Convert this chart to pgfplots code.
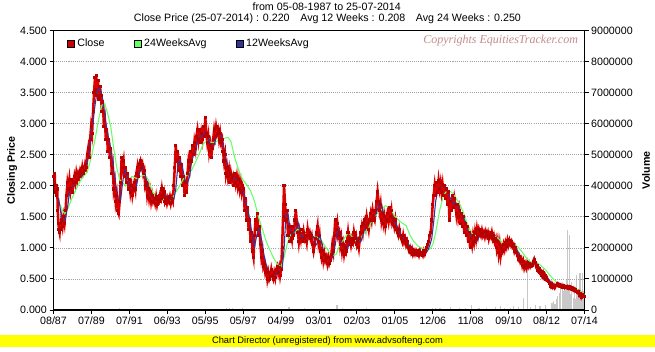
\documentclass[border=0pt]{standalone}
\usepackage{fontspec}
\setmainfont{Liberation Sans}
\newfontfamily\wmfont{Liberation Serif}
\usepackage{pgfplots}
\usepackage{pgfplotstable}
\pgfplotsset{compat=1.18}
\definecolor{closered}{RGB}{222,0,0}
\definecolor{closedark}{RGB}{185,0,0}
\definecolor{avgg}{RGB}{102,255,102}
\definecolor{avgb}{RGB}{51,51,153}
\definecolor{volgray}{RGB}{200,200,200}
\definecolor{gridc}{RGB}{165,160,175}
\definecolor{wmc}{RGB}{196,140,140}
\definecolor{band}{RGB}{255,255,0}

\pgfplotstableread{
x y
1987.59 2.15
1987.62 2.05
1987.65 2.2
1987.68 1.9
1987.72 2.0
1987.75 1.85
1987.78 1.95
1987.81 1.6
1987.84 1.4
1987.87 1.3
1987.9 1.25
1987.93 1.4
1987.96 1.3
1988.0 1.45
1988.05 1.35
1988.1 1.5
1988.15 1.4
1988.2 1.6
1988.25 1.85
1988.3 2.05
1988.35 1.95
1988.4 2.1
1988.45 1.95
1988.5 2.1
1988.55 1.9
1988.6 2.05
1988.65 2.15
1988.7 2.05
1988.75 2.2
1988.8 2.1
1988.85 2.2
1988.9 2.15
1988.95 2.25
1989.0 2.2
1989.05 2.3
1989.1 2.2
1989.15 2.25
1989.2 2.35
1989.25 2.3
1989.3 2.5
1989.35 2.6
1989.4 2.45
1989.45 2.75
1989.5 2.95
1989.55 2.85
1989.6 3.2
1989.65 3.5
1989.7 3.75
1989.73 3.55
1989.76 3.78
1989.8 3.45
1989.85 3.7
1989.9 3.4
1989.95 3.6
1990.0 3.45
1990.05 3.2
1990.1 3.35
1990.15 2.95
1990.2 3.05
1990.25 2.75
1990.3 2.9
1990.35 2.55
1990.4 2.75
1990.45 2.45
1990.5 2.6
1990.55 2.2
1990.6 2.3
1990.65 1.95
1990.7 2.05
1990.75 1.75
1990.8 1.85
1990.85 1.6
1990.9 1.55
1990.95 1.75
1991.0 2.05
1991.05 2.45
1991.1 2.3
1991.15 2.4
1991.2 2.15
1991.25 2.3
1991.3 2.05
1991.35 2.2
1991.4 1.95
1991.45 2.1
1991.5 1.9
1991.55 2.0
1991.6 1.85
1991.65 1.95
1991.7 2.05
1991.75 1.95
1991.8 2.2
1991.85 2.3
1991.9 2.15
1991.95 2.35
1992.0 2.4
1992.05 2.3
1992.1 2.35
1992.15 2.2
1992.2 2.25
1992.25 2.0
1992.3 2.05
1992.35 1.85
1992.4 1.95
1992.45 1.8
1992.5 1.9
1992.55 1.75
1992.6 1.85
1992.65 1.75
1992.7 1.8
1992.75 1.72
1992.8 1.82
1992.85 1.7
1992.9 1.78
1992.95 1.75
1993.0 1.85
1993.05 1.8
1993.1 1.95
1993.15 1.85
1993.2 1.9
1993.25 1.75
1993.3 1.8
1993.35 1.72
1993.4 1.8
1993.45 1.75
1993.5 1.82
1993.55 1.72
1993.6 1.8
1993.65 1.75
1993.7 2.0
1993.75 2.3
1993.8 2.65
1993.85 2.4
1993.9 2.55
1993.95 2.25
1994.0 2.45
1994.05 2.15
1994.1 2.35
1994.15 2.0
1994.2 2.15
1994.25 1.85
1994.3 2.05
1994.35 1.9
1994.4 2.2
1994.45 2.4
1994.5 2.3
1994.55 2.55
1994.6 2.4
1994.65 2.65
1994.7 2.5
1994.75 2.7
1994.8 2.6
1994.85 2.8
1994.9 2.9
1994.95 2.75
1995.0 2.9
1995.05 2.7
1995.1 2.85
1995.15 2.75
1995.2 2.95
1995.25 2.8
1995.3 3.1
1995.35 2.85
1995.4 2.7
1995.45 2.8
1995.5 2.55
1995.55 2.65
1995.6 2.45
1995.65 2.6
1995.7 2.75
1995.75 2.9
1995.8 2.8
1995.85 2.95
1995.9 2.85
1995.95 2.9
1996.0 2.75
1996.05 2.85
1996.1 2.7
1996.15 2.75
1996.2 2.55
1996.25 2.4
1996.3 2.5
1996.35 2.2
1996.4 2.3
1996.45 2.15
1996.5 2.25
1996.55 2.05
1996.6 2.2
1996.65 2.1
1996.7 2.15
1996.75 2.0
1996.8 2.2
1996.85 2.05
1996.9 2.15
1996.95 2.0
1997.0 2.1
1997.05 1.95
1997.1 2.05
1997.15 1.9
1997.2 2.0
1997.25 1.95
1997.3 1.6
1997.35 1.8
1997.4 1.45
1997.45 1.65
1997.5 1.3
1997.55 1.45
1997.6 1.1
1997.65 1.25
1997.7 0.95
1997.75 0.85
1997.8 1.2
1997.85 1.45
1997.9 1.3
1997.95 1.55
1998.0 1.2
1998.05 1.35
1998.1 1.05
1998.15 0.85
1998.2 0.95
1998.25 0.7
1998.3 0.75
1998.35 0.6
1998.4 0.65
1998.45 0.5
1998.5 0.6
1998.55 0.5
1998.6 0.55
1998.65 0.65
1998.7 0.55
1998.75 0.5
1998.8 0.6
1998.85 0.52
1998.9 0.65
1998.95 0.7
1999.0 0.6
1999.05 0.68
1999.1 0.55
1999.15 0.65
1999.2 1.0
1999.25 1.5
1999.3 2.0
1999.35 1.7
1999.4 1.45
1999.45 1.6
1999.5 1.2
1999.55 1.35
1999.6 1.1
1999.65 1.25
1999.7 1.15
1999.75 1.35
1999.8 1.2
1999.85 1.45
1999.9 1.6
1999.95 1.4
2000.0 1.25
2000.05 1.1
2000.1 1.25
2000.15 1.15
2000.2 1.3
2000.25 1.1
2000.3 1.25
2000.35 1.15
2000.4 1.2
2000.45 1.1
2000.5 1.3
2000.55 1.2
2000.6 1.25
2000.65 1.15
2000.7 1.2
2000.75 1.05
2000.8 0.95
2000.85 1.05
2000.9 1.15
2000.95 1.25
2001.0 1.35
2001.05 1.1
2001.1 1.2
2001.15 0.95
2001.2 0.85
2001.25 0.95
2001.3 0.8
2001.35 0.9
2001.4 0.8
2001.45 0.85
2001.5 0.75
2001.55 0.85
2001.6 0.75
2001.65 0.8
2001.7 0.9
2001.75 1.05
2001.8 0.95
2001.85 1.2
2001.9 1.45
2001.95 1.3
2002.0 1.4
2002.05 1.2
2002.1 1.25
2002.15 1.05
2002.2 1.15
2002.25 0.95
2002.3 1.05
2002.35 0.9
2002.4 1.0
2002.45 0.95
2002.5 1.1
2002.55 1.25
2002.6 1.1
2002.65 1.15
2002.7 1.05
2002.75 1.15
2002.8 1.1
2002.85 1.25
2002.9 1.15
2002.95 1.2
2003.0 1.05
2003.05 1.1
2003.1 1.0
2003.15 1.15
2003.2 1.25
2003.25 1.35
2003.3 1.25
2003.35 1.4
2003.4 1.45
2003.45 1.35
2003.5 1.5
2003.55 1.4
2003.6 1.3
2003.65 1.45
2003.7 1.55
2003.75 1.45
2003.8 1.6
2003.85 1.5
2003.9 1.45
2003.95 1.6
2004.0 1.75
2004.05 1.9
2004.1 1.75
2004.15 1.6
2004.2 1.7
2004.25 1.45
2004.3 1.55
2004.35 1.4
2004.4 1.5
2004.45 1.35
2004.5 1.45
2004.55 1.55
2004.6 1.45
2004.65 1.65
2004.7 1.5
2004.75 1.6
2004.8 1.4
2004.85 1.45
2004.9 1.35
2004.95 1.45
2005.0 1.3
2005.05 1.25
2005.1 1.2
2005.15 1.3
2005.2 1.2
2005.25 1.15
2005.3 1.1
2005.35 1.2
2005.4 1.1
2005.45 1.15
2005.5 1.05
2005.55 1.1
2005.6 1.0
2005.65 0.95
2005.7 1.0
2005.75 0.93
2005.8 0.98
2005.85 0.9
2005.9 0.95
2005.95 0.9
2006.0 0.95
2006.05 0.9
2006.1 0.93
2006.15 0.88
2006.2 0.95
2006.25 0.9
2006.3 0.92
2006.35 0.88
2006.4 0.95
2006.45 0.9
2006.5 0.95
2006.55 1.0
2006.6 1.05
2006.65 1.1
2006.7 1.2
2006.75 1.25
2006.8 1.45
2006.85 1.7
2006.9 1.85
2006.95 2.0
2007.0 1.85
2007.05 2.05
2007.1 1.9
2007.15 2.08
2007.2 1.95
2007.25 2.05
2007.3 1.9
2007.35 2.02
2007.4 1.85
2007.45 2.0
2007.5 1.8
2007.55 1.95
2007.6 1.7
2007.65 1.9
2007.7 1.45
2007.75 1.75
2007.8 1.6
2007.85 1.85
2007.9 1.65
2007.95 1.8
2008.0 1.7
2008.05 1.55
2008.1 1.7
2008.15 1.5
2008.2 1.6
2008.25 1.4
2008.3 1.55
2008.35 1.35
2008.4 1.5
2008.45 1.25
2008.5 1.4
2008.55 1.2
2008.6 1.35
2008.65 1.1
2008.7 1.25
2008.75 1.0
2008.8 1.15
2008.85 1.05
2008.9 1.2
2008.95 1.1
2009.0 1.25
2009.05 1.15
2009.1 1.3
2009.15 1.2
2009.2 1.3
2009.25 1.25
2009.3 1.2
2009.35 1.28
2009.4 1.2
2009.45 1.25
2009.5 1.18
2009.55 1.26
2009.6 1.2
2009.65 1.25
2009.7 1.15
2009.75 1.22
2009.8 1.18
2009.85 1.25
2009.9 1.15
2009.95 1.2
2010.0 1.1
2010.05 1.15
2010.1 1.0
2010.15 1.1
2010.2 0.92
2010.25 1.05
2010.3 0.88
2010.35 1.0
2010.4 0.95
2010.45 1.05
2010.5 0.98
2010.55 1.08
2010.6 1.02
2010.65 1.12
2010.7 1.05
2010.75 1.12
2010.8 1.06
2010.85 1.1
2010.9 1.02
2010.95 1.05
2011.0 0.95
2011.05 1.0
2011.1 0.92
2011.15 0.88
2011.2 0.82
2011.25 0.86
2011.3 0.78
2011.35 0.82
2011.4 0.72
2011.45 0.78
2011.5 0.68
2011.55 0.74
2011.6 0.68
2011.65 0.76
2011.7 0.7
2011.75 0.75
2011.8 0.7
2011.85 0.74
2011.9 0.72
2011.95 0.78
2012.0 0.82
2012.05 0.76
2012.1 0.7
2012.15 0.72
2012.2 0.64
2012.25 0.66
2012.3 0.6
2012.35 0.62
2012.4 0.56
2012.45 0.6
2012.5 0.53
2012.55 0.56
2012.6 0.5
2012.65 0.52
2012.7 0.47
2012.75 0.46
2012.8 0.42
2012.85 0.38
2012.9 0.42
2012.95 0.37
2013.0 0.4
2013.05 0.36
2013.1 0.4
2013.15 0.39
2013.2 0.42
2013.25 0.39
2013.3 0.41
2013.35 0.38
2013.4 0.4
2013.45 0.37
2013.5 0.39
2013.55 0.36
2013.6 0.38
2013.65 0.36
2013.7 0.38
2013.75 0.35
2013.8 0.37
2013.85 0.34
2013.9 0.36
2013.95 0.33
2014.0 0.35
2014.05 0.31
2014.1 0.33
2014.15 0.3
2014.2 0.28
2014.25 0.3
2014.3 0.24
2014.35 0.27
2014.4 0.21
2014.45 0.25
2014.5 0.22
2014.56 0.22
}\closedata

\pgfplotstableread{
x y
1987.85 1.80
1987.95 1.60
1988.0 1.45
1988.1 1.42
1988.2 1.48
1988.3 1.65
1988.4 1.88
1988.5 1.98
1988.6 2.0
1988.7 2.05
1988.8 2.12
1988.9 2.15
1989.0 2.15
1989.1 2.2
1989.2 2.25
1989.3 2.35
1989.4 2.55
1989.5 2.8
1989.6 3.05
1989.7 3.3
1989.8 3.52
1989.9 3.58
1990.0 3.52
1990.1 3.38
1990.2 3.12
1990.3 2.92
1990.4 2.75
1990.5 2.6
1990.6 2.38
1990.7 2.12
1990.8 1.92
1990.9 1.75
1991.0 1.78
1991.1 2.05
1991.2 2.25
1991.3 2.2
1991.4 2.08
1991.5 2.0
1991.6 1.95
1991.7 1.92
1991.8 2.0
1991.9 2.15
1992.0 2.25
1992.1 2.33
1992.2 2.25
1992.3 2.1
1992.4 1.95
1992.5 1.87
1992.6 1.82
1992.7 1.8
1992.8 1.77
1992.9 1.77
1993.0 1.78
1993.1 1.82
1993.2 1.87
1993.3 1.84
1993.4 1.79
1993.5 1.78
1993.6 1.77
1993.7 1.78
1993.8 1.95
1993.9 2.3
1994.0 2.42
1994.1 2.35
1994.2 2.2
1994.3 2.07
1994.4 2.05
1994.5 2.15
1994.6 2.38
1994.7 2.5
1994.8 2.6
1994.9 2.7
1995.0 2.78
1995.1 2.8
1995.2 2.82
1995.3 2.87
1995.4 2.85
1995.5 2.72
1995.6 2.62
1995.7 2.6
1995.8 2.72
1995.9 2.83
1996.0 2.85
1996.1 2.8
1996.2 2.7
1996.3 2.52
1996.4 2.32
1996.5 2.22
1996.6 2.17
1996.7 2.13
1996.8 2.1
1996.9 2.1
1997.0 2.08
1997.1 2.05
1997.2 1.95
1997.3 1.82
1997.4 1.67
1997.5 1.55
1997.6 1.37
1997.7 1.17
1997.8 1.02
1997.9 1.18
1998.0 1.33
1998.1 1.25
1998.2 1.02
1998.3 0.86
1998.4 0.72
1998.5 0.62
1998.6 0.56
1998.7 0.57
1998.8 0.57
1998.9 0.58
1999.0 0.63
1999.1 0.63
1999.2 0.66
1999.3 0.98
1999.4 1.55
1999.5 1.55
1999.6 1.32
1999.7 1.2
1999.8 1.25
1999.9 1.3
2000.0 1.43
2000.1 1.27
2000.2 1.16
2000.3 1.19
2000.4 1.2
2000.5 1.18
2000.6 1.24
2000.7 1.22
2000.8 1.17
2000.9 1.04
2001.0 1.08
2001.1 1.22
2001.2 1.1
2001.3 0.92
2001.4 0.86
2001.5 0.85
2001.6 0.82
2001.7 0.8
2001.8 0.9
2001.9 1.05
2002.0 1.27
2002.1 1.3
2002.2 1.12
2002.3 1.05
2002.4 0.98
2002.5 0.96
2002.6 1.08
2002.7 1.14
2002.8 1.1
2002.9 1.14
2003.0 1.17
2003.1 1.11
2003.2 1.1
2003.3 1.2
2003.4 1.31
2003.5 1.41
2003.6 1.43
2003.7 1.42
2003.8 1.47
2003.9 1.52
2004.0 1.56
2004.1 1.7
2004.2 1.74
2004.3 1.62
2004.4 1.5
2004.5 1.46
2004.6 1.45
2004.7 1.49
2004.8 1.5
2004.9 1.43
2005.0 1.38
2005.1 1.31
2005.2 1.23
2005.3 1.2
2005.4 1.14
2005.5 1.12
2005.6 1.07
2005.7 1.02
2005.8 0.97
2005.9 0.95
2006.0 0.92
2006.1 0.93
2006.2 0.92
2006.3 0.93
2006.4 0.91
2006.5 0.92
2006.6 0.96
2006.7 1.04
2006.8 1.15
2006.9 1.42
2007.0 1.75
2007.1 1.92
2007.2 1.97
2007.3 2.0
2007.4 2.0
2007.5 1.95
2007.6 1.9
2007.7 1.83
2007.8 1.76
2007.9 1.71
2008.0 1.74
2008.1 1.68
2008.2 1.62
2008.3 1.55
2008.4 1.48
2008.5 1.43
2008.6 1.31
2008.7 1.25
2008.8 1.18
2008.9 1.11
2009.0 1.1
2009.1 1.12
2009.2 1.17
2009.3 1.24
2009.4 1.25
2009.5 1.22
2009.6 1.23
2009.7 1.21
2009.8 1.22
2009.9 1.19
2010.0 1.17
2010.1 1.14
2010.2 1.08
2010.3 1.03
2010.4 0.98
2010.5 0.97
2010.6 1.0
2010.7 1.04
2010.8 1.07
2010.9 1.07
2011.0 1.04
2011.1 0.99
2011.2 0.93
2011.3 0.86
2011.4 0.8
2011.5 0.76
2011.6 0.73
2011.7 0.72
2011.8 0.72
2011.9 0.73
2012.0 0.75
2012.1 0.76
2012.2 0.72
2012.3 0.67
2012.4 0.62
2012.5 0.58
2012.6 0.54
2012.7 0.51
2012.8 0.47
2012.9 0.43
2013.0 0.41
2013.1 0.39
2013.2 0.39
2013.3 0.39
2013.4 0.39
2013.5 0.38
2013.6 0.38
2013.7 0.37
2013.8 0.37
2013.9 0.35
2014.0 0.34
2014.1 0.33
2014.2 0.31
2014.3 0.29
2014.4 0.25
2014.5 0.22
2014.56 0.21
}\avgtwelve

\pgfplotstableread{
x y
1987.93 1.70
1988.05 1.60
1988.16 1.55
1988.3 1.62
1988.5 1.78
1988.7 1.92
1988.9 2.05
1989.1 2.15
1989.3 2.22
1989.5 2.45
1989.7 2.75
1989.9 3.1
1990.05 3.3
1990.2 3.32
1990.35 3.15
1990.5 2.95
1990.65 2.6
1990.8 2.3
1990.95 2.1
1991.1 2.05
1991.25 2.0
1991.4 2.1
1991.6 2.15
1991.8 2.12
1992.0 2.15
1992.2 2.18
1992.4 2.1
1992.6 1.92
1992.8 1.8
1993.0 1.78
1993.2 1.78
1993.4 1.76
1993.6 1.78
1993.8 1.9
1994.0 2.0
1994.2 2.12
1994.4 2.18
1994.6 2.25
1994.8 2.38
1995.0 2.52
1995.2 2.68
1995.4 2.72
1995.6 2.7
1995.8 2.7
1996.0 2.74
1996.2 2.76
1996.45 2.78
1996.6 2.72
1996.8 2.45
1997.0 2.25
1997.2 2.1
1997.4 2.02
1997.6 1.92
1997.8 1.75
1998.0 1.5
1998.2 1.3
1998.4 1.1
1998.6 0.95
1998.8 0.82
1999.0 0.72
1999.15 0.7
1999.3 0.85
1999.45 1.05
1999.6 1.2
1999.8 1.25
2000.0 1.3
2000.2 1.27
2000.4 1.22
2000.6 1.2
2000.8 1.18
2001.0 1.17
2001.2 1.12
2001.4 1.02
2001.6 0.93
2001.8 0.88
2001.95 0.9
2002.1 1.02
2002.3 1.12
2002.5 1.22
2002.6 1.24
2002.8 1.16
2003.0 1.1
2003.2 1.16
2003.4 1.25
2003.6 1.32
2003.8 1.48
2004.0 1.55
2004.2 1.6
2004.45 1.68
2004.7 1.64
2004.9 1.52
2005.1 1.45
2005.3 1.4
2005.5 1.36
2005.7 1.2
2005.9 1.1
2006.1 1.03
2006.3 1.0
2006.5 0.96
2006.7 0.98
2006.85 1.05
2007.0 1.25
2007.2 1.6
2007.4 1.85
2007.6 1.93
2007.8 1.9
2008.0 1.82
2008.2 1.72
2008.4 1.58
2008.6 1.4
2008.8 1.25
2009.0 1.2
2009.2 1.2
2009.4 1.2
2009.6 1.22
2009.8 1.2
2010.0 1.19
2010.2 1.15
2010.4 1.08
2010.6 1.04
2010.8 1.05
2011.0 1.06
2011.2 1.01
2011.4 0.93
2011.6 0.84
2011.8 0.78
2012.0 0.76
2012.2 0.75
2012.4 0.7
2012.6 0.64
2012.8 0.56
2013.0 0.49
2013.2 0.43
2013.4 0.41
2013.6 0.4
2013.8 0.38
2014.0 0.36
2014.2 0.33
2014.4 0.29
2014.56 0.25
}\avgtwentyfour

\pgfplotstableread{
x y
1988.2 30000
1989.0 20000
1990.96 50000
1992.5 20000
1994.01 40000
1995.5 20000
1996.40 60000
1996.55 50000
1996.70 70000
1997.21 60000
1998.3 30000
1999.55 90000
2000.36 50000
2001.99 160000
2002.29 70000
2003.51 60000
2004.5 30000
2005.5 40000
2006.5 30000
2006.86 80000
2007.0 60000
2007.22 70000
2007.73 90000
2008.23 80000
2008.5 50000
2008.83 160000
2009.2 60000
2009.6 50000
2010.02 100000
2010.27 120000
2010.5 70000
2010.78 80000
2010.93 120000
2011.2 90000
2011.45 400000
2011.66 1290000
2011.8 100000
2012.05 160000
2012.3 120000
2012.6 150000
2012.91 220000
2013.0 300000
2013.06 200000
2013.15 350000
2013.21 450000
2013.3 550000
2013.35 800000
2013.42 900000
2013.5 600000
2013.57 750000
2013.65 1000000
2013.71 2580000
2013.76 700000
2013.81 2420000
2013.87 500000
2013.92 900000
2013.98 400000
2014.05 550000
2014.1 350000
2014.16 1130000
2014.22 500000
2014.28 450000
2014.33 1200000
2014.38 400000
2014.45 1200000
2014.5 600000
2014.55 300000
}\voldata

\begin{document}
\begin{tikzpicture}
\useasboundingbox (0,0) rectangle (491.25pt,-264pt);
\fill[white] (0,0) rectangle (491.25pt,-264pt);
\fill[band] (0,-251.4pt) rectangle (491.25pt,-260.4pt);
\node[font=\fontsize{7}{8}\selectfont, inner sep=0pt] at (245.6pt,-256pt) {Chart Director (unregistered) from www.advsofteng.com};
\node[font=\fontsize{8}{9.6}\selectfont, inner sep=0pt] at (245pt,-5.3pt) {from 05-08-1987 to 25-07-2014};
\node[font=\fontsize{8}{9.6}\selectfont, inner sep=0pt] at (245.6pt,-14.2pt) {Close Price (25-07-2014) : 0.220\quad Avg 12 Weeks : 0.208\quad Avg 24 Weeks : 0.250};

% volume axis (right)
\begin{axis}[
  at={(40.125pt,-232.5pt)}, anchor=south west,
  scale only axis, width=398.25pt, height=209.5pt,
  xmin=1987.59, xmax=2014.56, ymin=0, ymax=9000000,
  axis x line=none, axis y line*=right,
  axis line style={black, line width=1pt},
  ytick={0,1000000,2000000,3000000,4000000,5000000,6000000,7000000,8000000,9000000},
  scaled y ticks=false,
  /pgf/number format/assume math mode=true,
  yticklabel style={/pgf/number format/fixed, /pgf/number format/1000 sep={}, /pgf/number format/precision=0, font=\fontsize{8}{9.6}\selectfont, inner sep=1.8pt},
  tick align=outside, major tick length=3pt, tick style={black, line width=0.75pt},
  ylabel={\bfseries Volume},
  ylabel style={at={(axis description cs:1.116,0.5)}, anchor=center, font=\fontsize{8}{9.6}\selectfont},
  clip=true,
]
\addplot[ycomb, volgray, line width=0.8pt, no markers] table {\voldata};
\end{axis}

% price axis (left)
\begin{axis}[
  at={(40.125pt,-232.5pt)}, anchor=south west,
  scale only axis, width=398.25pt, height=209.5pt,
  xmin=1987.59, xmax=2014.56, ymin=0, ymax=4.5,
  axis line style={black, line width=1pt},
  xtick={1987.590,1989.516,1991.443,1993.369,1995.296,1997.222,1999.149,2001.075,2003.001,2004.928,2006.854,2008.781,2010.707,2012.634,2014.560},
  xticklabels={08/87,07/89,07/91,06/93,05/95,05/97,04/99,03/01,02/03,01/05,12/06,11/08,09/10,08/12,07/14},
  xtick pos=left, ytick pos=left,
  ytick={0,0.5,1,1.5,2,2.5,3,3.5,4,4.5},
  /pgf/number format/assume math mode=true,
  yticklabel style={/pgf/number format/fixed, /pgf/number format/fixed zerofill, /pgf/number format/precision=3, font=\fontsize{8}{9.6}\selectfont, inner sep=1.8pt},
  xticklabel style={font=\fontsize{8}{9.6}\selectfont, inner sep=2pt},
  tick align=outside, major tick length=3pt, tick style={black, line width=0.75pt},
  ymajorgrids, grid style={gridc, line width=0.6pt, dash pattern=on 0.8pt off 0.8pt},
  ylabel={\bfseries Closing Price},
  ylabel style={at={(axis description cs:-0.078,0.5)}, anchor=center, font=\fontsize{8}{9.6}\selectfont},
  legend columns=3,
  legend style={at={(axis description cs:0.025,0.954)}, anchor=west, draw=none, fill=none, inner sep=0pt, font=\fontsize{8}{9.6}\selectfont, /tikz/every even column/.append style={column sep=20pt}},
  clip=true,
]
\addplot[closered, line width=1.9pt, mark=square*, mark size=0.8pt, mark options={closedark, line width=0pt},
  legend image code/.code={\draw[fill=closered!92!black, draw=black, line width=0.5pt] (0pt,-2.6pt) rectangle (5.2pt,2.6pt);}] table {\closedata};
\addlegendentry{Close}
\addplot[avgg, line width=0.8pt, no markers,
  legend image code/.code={\draw[fill=avgg, draw=black, line width=0.5pt] (0pt,-2.6pt) rectangle (5.2pt,2.6pt);}] table {\avgtwentyfour};
\addlegendentry{24WeeksAvg}
\addplot[avgb, line width=0.8pt, no markers,
  legend image code/.code={\draw[fill=avgb, draw=black, line width=0.5pt] (0pt,-2.6pt) rectangle (5.2pt,2.6pt);}] table {\avgtwelve};
\addlegendentry{12WeeksAvg}
\node[font=\wmfont\itshape\fontsize{9}{10}\selectfont, text=wmc, inner sep=0pt] at (axis description cs:0.842,0.965) {Copyrights EquitiesTracker.com};
\end{axis}
\end{tikzpicture}
\end{document}
